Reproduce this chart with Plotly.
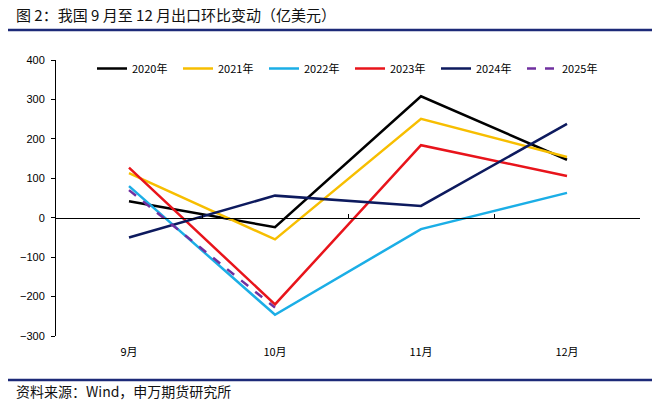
import plotly.graph_objects as go

months = ["9月", "10月", "11月", "12月"]
series_names = ["2020年", "2021年", "2022年", "2023年", "2024年", "2025年"]
v2020 = [42, -24, 308, 147]
v2021 = [113, -55, 251, 154]
v2022 = [80, -246, -29, 63]
v2023 = [127, -220, 184, 106]
v2024 = [-50, 56, 30, 238]
v2025 = [70, -228, None, None]
colors = ["#000000", "#F7BE00", "#1BAEE6", "#E8141B", "#0D1A5E", "#7030A0"]
dashes = ["solid", "solid", "solid", "solid", "solid", "dash"]
y_ticks = [-300, -200, -100, 0, 100, 200, 300, 400]

W, H = 660, 401
L, R, T, B = 56, 20, 60, 65
pw, ph = W - L - R, H - T - B

def px(xp):
    return (xp - L) / pw

def py(yp):
    return (H - B - yp) / ph

fig = go.Figure()
for name, vals, c, d in zip(series_names, [v2020, v2021, v2022, v2023, v2024, v2025], colors, dashes):
    fig.add_trace(go.Scatter(x=months, y=vals, name=name, mode="lines",
                             line=dict(color=c, width=2.5, dash=d), connectgaps=False))

# dummy trace to render bottom labels axis
fig.add_trace(go.Scatter(x=months, y=[None] * 4, xaxis="x2", showlegend=False,
                         hoverinfo="skip", mode="lines"))

fig.update_layout(
    width=W, height=H,
    margin=dict(l=L, r=R, t=T, b=B, autoexpand=False),
    paper_bgcolor="white", plot_bgcolor="white",
    font=dict(family="Liberation Sans, Arial, sans-serif", size=11, color="#000"),
    showlegend=True,
    legend=dict(orientation="h", x=px(92), y=py(54), xanchor="left", yanchor="top",
                entrywidth=41, entrywidthmode="pixels", itemwidth=30,
                font=dict(family="Noto Sans CJK SC, Liberation Sans", size=11),
                bgcolor="rgba(0,0,0,0)", tracegroupgap=0),
    xaxis=dict(type="category", range=[-0.5, 3.5], anchor="free", position=3 / 7,
               showline=True, linecolor="#000", linewidth=1, ticks="inside",
               tickson="boundaries", ticklen=4, tickcolor="#000", showticklabels=False,
               showgrid=False, zeroline=False, fixedrange=True),
    xaxis2=dict(type="category", range=[-0.5, 3.5], overlaying="x", anchor="y", side="bottom",
                showline=False, ticks="", showgrid=False, zeroline=False,
                tickfont=dict(family="Noto Sans CJK SC, Liberation Sans", size=11),
                ticklabelstandoff=8),
    yaxis=dict(range=[-300, 400], tickvals=y_ticks, showline=True, linecolor="#000",
               linewidth=1, ticks="outside", ticklen=4, tickcolor="#000", showgrid=False,
               zeroline=False, tickfont=dict(size=11), ticklabelstandoff=4),
    shapes=[
        dict(type="line", xref="paper", yref="paper", x0=px(8), x1=px(652), y0=py(30), y1=py(30),
             line=dict(color="#1C2A78", width=2.5)),
        dict(type="line", xref="paper", yref="paper", x0=px(8), x1=px(652), y0=py(380), y1=py(380),
             line=dict(color="#1C2A78", width=2.5)),
    ],
    annotations=[
        dict(text="图 2：我国 9 月至 12 月出口环比变动（亿美元）", xref="paper", yref="paper",
             x=px(14), y=py(15), xanchor="left", yanchor="middle", showarrow=False,
             font=dict(family="Noto Sans CJK SC", size=15, color="#111")),
        dict(text="资料来源：Wind，申万期货研究所", xref="paper", yref="paper",
             x=px(14), y=py(391), xanchor="left", yanchor="middle", showarrow=False,
             font=dict(family="Noto Sans CJK SC", size=14, color="#111")),
    ],
)

fig.write_html("out.html", config={"displayModeBar": False},
               post_script="document.body.style.margin='0';document.body.style.overflow='hidden';")
